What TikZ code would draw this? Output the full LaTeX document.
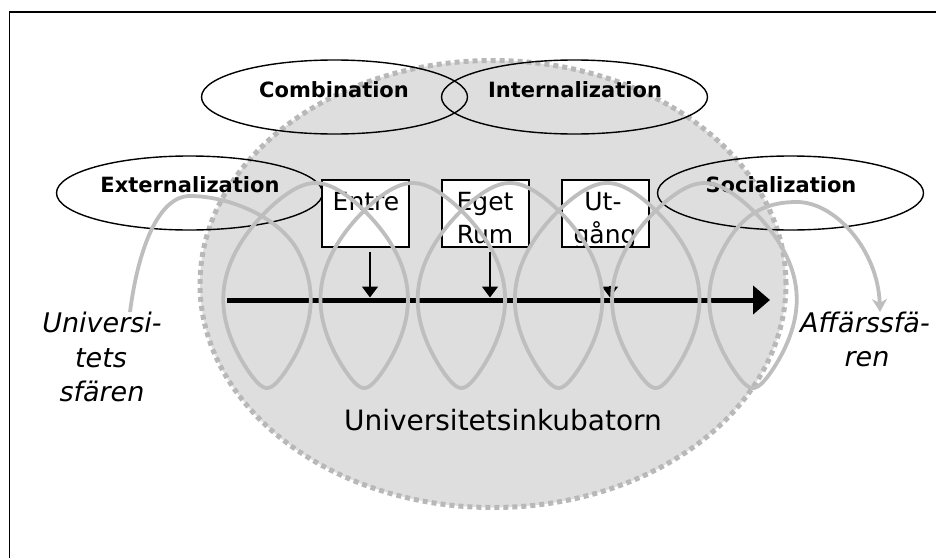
\documentclass[tikz,border=0pt]{standalone}
\usepackage{fontspec}
\setmainfont{DejaVu Sans}
\usetikzlibrary{arrows.meta,shapes.geometric,calc}
\definecolor{coilgray}{HTML}{BEBEBE}
\definecolor{dotgray}{HTML}{B8B8B8}
\definecolor{incfill}{HTML}{DEDEDE}
\tikzset{
  phase/.style={ellipse, draw=black, line width=1.4pt, minimum width=266pt, minimum height=74pt, inner sep=0pt},
  phaselabel/.style={anchor=base, inner sep=0pt, font=\fontsize{21}{25}\selectfont\bfseries},
  stagebox/.style={rectangle, draw=black, fill=white, line width=1.4pt, minimum width=87pt, minimum height=67pt, inner sep=0pt},
  boxtext/.style={anchor=base, inner sep=0pt, font=\fontsize{25}{30}\selectfont},
  sidelabel/.style={anchor=base, inner sep=0pt, font=\fontsize{27}{32}\selectfont\itshape},
  feed/.style={line width=1.5pt, -{Triangle[length=11pt,width=16pt]}},
  coil/.style={draw=coilgray, line width=3.8pt, line join=round, -{Stealth[length=13pt,width=15pt,inset=4pt]}}
}
\begin{document}
\begin{tikzpicture}[x=1pt,y=-1pt]
\useasboundingbox (0,0) rectangle (936,557);
% frame
\draw[line width=1.5pt] (9.5,560) |- (940,12);
% incubator
\path[fill=incfill, draw=dotgray, line width=5pt, dash pattern=on 5pt off 4pt]
  (493,284) ellipse [x radius=293pt, y radius=223.5pt];
\node[anchor=base, inner sep=0pt, font=\fontsize{28}{32}\selectfont] (inc) at (503,430) {Universitetsinkubatorn};
% main axis
\coordinate (axisL) at (227,300);
\coordinate (axisR) at (770,300);
\draw[line width=5pt, -{Triangle[length=17pt,width=28pt]}] (axisL) -- (axisR);
% phase ellipses
\node[phase] (comb) at (334.5,97) {};
\node[phase] (inter) at (574.5,97) {};
\node[phase] (ext) at (189.5,193) {};
\node[phase] (soc) at (790.5,193) {};
\node[phaselabel] (combt) at (334,97) {Combination};
\node[phaselabel] (intert) at (575,97) {Internalization};
\node[phaselabel] (extt) at (190,192) {Externalization};
\node[phaselabel] (soct) at (781,192) {Socialization};
% stage boxes
\node[stagebox] (entre) at (365.5,213.5) {};
\node[stagebox] (eget) at (485.5,213.5) {};
\node[stagebox] (utg) at (605.5,213.5) {};
\begin{scope}
  \clip (entre.south west) rectangle (entre.north east);
  \node[boxtext] (entret) at (366,210) {Entre};
\end{scope}
\begin{scope}
  \clip (eget.south west) rectangle (eget.north east);
  \node[boxtext] (eget1) at (485,210) {Eget};
  \node[boxtext] (eget2) at (485,243) {Rum};
\end{scope}
\begin{scope}
  \clip (utg.south west) rectangle (utg.north east);
  \node[boxtext] (ut1) at (603,210) {Ut-};
  \node[boxtext] (ut2) at (605,243) {gång};
\end{scope}
\draw[stagebox, fill=none] (entre.south west) rectangle (entre.north east);
\draw[stagebox, fill=none] (eget.south west) rectangle (eget.north east);
\draw[stagebox, fill=none] (utg.south west) rectangle (utg.north east);
% feeds into the axis
\coordinate (f1) at (370,297.5);
\coordinate (f2) at (490,297.5);
\coordinate (f3) at (610,297.5);
\coordinate (s1) at (370,252);
\coordinate (s2) at (490,252);
\coordinate (s3) at (610,286);
\draw[feed] (s1) -- (f1);
\draw[feed] (s2) -- (f2);
\draw[feed] (s3) -- (f3);
% side labels
\node[sidelabel] (u1) at (102,332) {Universi-};
\node[sidelabel] (u2) at (101,367) {tets};
\node[sidelabel] (u3) at (102,401) {sfären};
\node[sidelabel] (a1) at (865,332) {Affärssfä-};
\node[sidelabel] (a2) at (867,366) {ren};
% knowledge coil
\coordinate (cstart) at (130,312);
\coordinate (cend) at (880,312);
\draw[coil] (cstart) .. controls (138,250) and (158,196) .. (190,196)
  .. controls (228,196) and (280.2,216.7) .. (298.6,252.2)
  -- plot[domain=-1.9:33.32, samples=600, variable=\t]
     ({267+15.47*\t-61*sin(\t r)+6*sin(3*\t r)},{285.5+102.5*cos(\t r)})
  .. controls (740,216.3) and (762,202) .. (797,202)
  .. controls (835,202) and (878,250) .. (cend);
\end{tikzpicture}
\end{document}
